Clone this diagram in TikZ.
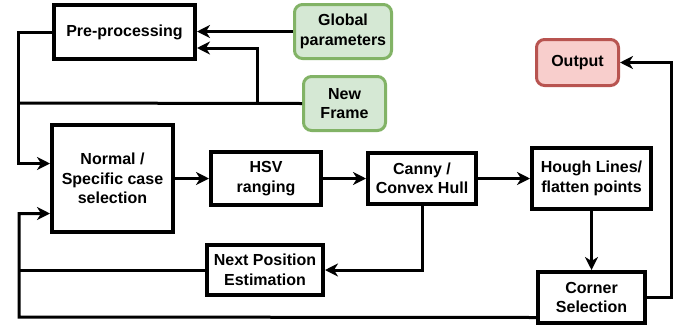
\documentclass[tikz,border=0pt]{standalone}
\usepackage{fontspec}
\setmainfont{Liberation Sans}
\usetikzlibrary{arrows.meta,positioning}
\definecolor{FrameGreen}{HTML}{82B366}
\definecolor{FrameLightGreen}{HTML}{D5E8D4}
\definecolor{OutRed}{HTML}{B85450}
\definecolor{OutLightRed}{HTML}{F8CECC}
\tikzset{
  box/.style={draw=black, line width=4pt, align=center, fill=white, inner sep=2pt, font=\fontsize{16}{19.5}\selectfont\bfseries},
  greenbox/.style={draw=FrameGreen, line width=3pt, rounded corners=8pt, align=center, fill=FrameLightGreen, inner sep=2pt, font=\fontsize{16}{19.5}\selectfont\bfseries},
  redbox/.style={draw=OutRed, line width=3pt, rounded corners=8pt, align=center, fill=OutLightRed, inner sep=2pt, font=\fontsize{16}{19.5}\selectfont\bfseries},
  arr/.style={-{Stealth[length=13pt,width=13pt,inset=4pt]}, line width=3pt, draw=black},
  line/.style={line width=3pt, draw=black}
}
\begin{document}
\begin{tikzpicture}[x=1pt,y=-1pt]
\useasboundingbox (0,0) rectangle (680,330);
\node[box, minimum width=141pt, minimum height=54pt] (pre) at (124.5,32) {Pre-processing};
\node[greenbox, minimum width=97pt, minimum height=54pt] (glob) at (343,31.5) {Global\\parameters};
\node[greenbox, minimum width=82pt, minimum height=54pt] (frame) at (344.5,103.5) {New\\Frame};
\node[box, minimum width=121pt, minimum height=107pt] (sel) at (112.5,178.5) {Normal /\\Specific case\\selection};
\node[box, minimum width=110pt, minimum height=53pt, right=34pt of sel] (hsv) {HSV\\ranging};
\node[box, minimum width=108pt, minimum height=51pt, right=43pt of hsv] (canny) {Canny /\\Convex Hull};
\node[box, minimum width=119pt, minimum height=61pt, right=52pt of canny] (hough) {Hough Lines/\\flatten points};
\node[box, minimum width=107pt, minimum height=51pt, below=59pt of hough] (corner) {Corner\\Selection};
\node[box, minimum width=116pt, minimum height=50pt] (next) at (265,270) {Next Position\\Estimation};
\node[redbox, minimum width=82pt, minimum height=46pt] (out) at (577.5,62.5) {Output};
\coordinate (trunk) at (18,103);
\coordinate (join) at (257,103);
\coordinate (btm) at (19,317);
\draw[arr] (glob.west) -- (glob.west -| pre.east);
\draw[line] (frame.west) -- (trunk);
\draw[arr] (join) |- ([yshift=-16pt]pre.east);
\draw[arr] (pre.west) -| (trunk) |- ([yshift=15pt]sel.west);
\draw[arr] (sel) -- (hsv);
\draw[arr] (hsv) -- (canny);
\draw[arr] (canny) -- (hough);
\draw[arr] (hough) -- (corner);
\draw[arr] (canny.south) |- (next.east);
\draw[line] (next.west) -- (next.west -| btm);
\draw[arr] ([yshift=-20pt]corner.west) -- (btm) |- ([yshift=-35pt]sel.west);
\draw[arr] (corner.east) -- ++(24pt,0) |- (out.east);
\end{tikzpicture}
\end{document}
